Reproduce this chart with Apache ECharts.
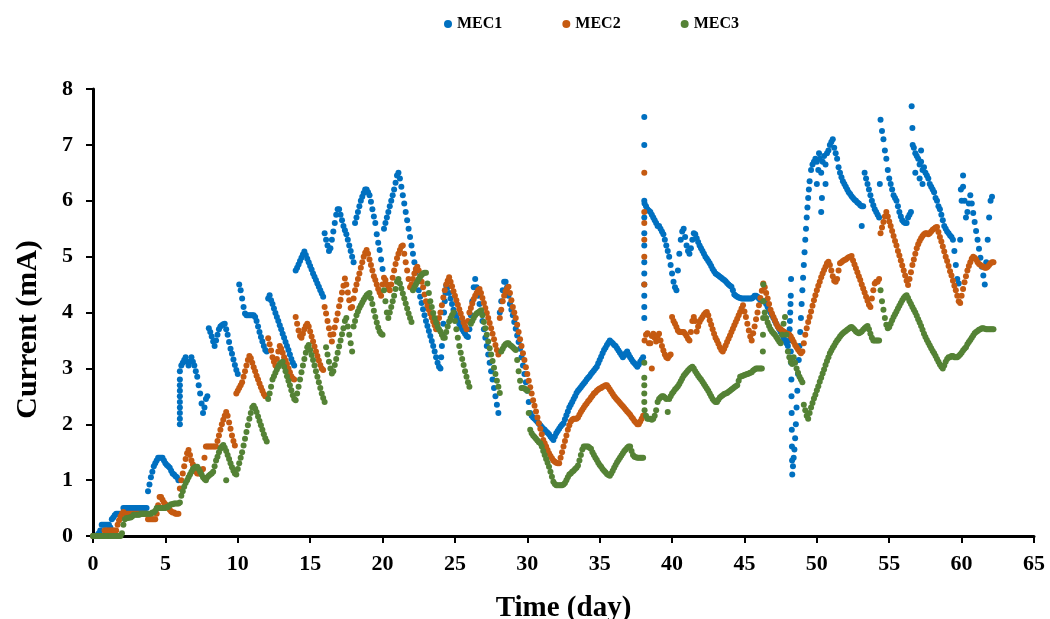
<!DOCTYPE html>
<html>
<head>
<meta charset="utf-8">
<script src="https://cdn.jsdelivr.net/npm/echarts@6/dist/echarts.min.js"></script>
<style>
html,body{margin:0;padding:0;background:#fff;}
#chart{width:1050px;height:619px;}
</style>
</head>
<body>
<div id="chart"></div>
<script>
// Sampling step of the recorded series (days)
const STEP = 0.1;
const seriesNames = ['MEC1', 'MEC2', 'MEC3'];
const xTicks = [0, 65, 5];   // min, max, interval (day)
const yTicks = [0, 8, 1];    // min, max, interval (mA)

// MEC1 current (mA), one row per day, samples every 0.1 day
const mec1 = [
0,0,0,0.02,0.05,0.1,0.2,0.2,0.2,0.2,
0.2,0.2,0.15,0.3,0.33,0.37,0.4,0.4,0.4,0.4,
0.4,0.5,0.5,0.5,0.5,0.5,0.5,0.5,0.5,0.5,
0.5,0.5,0.5,0.5,0.5,0.5,0.5,0.5,0.8,0.92,
1.05,1.15,1.25,1.3,1.35,1.4,1.4,1.4,1.4,1.35,
1.3,1.27,1.25,1.22,1.17,1.12,1.1,1.07,1.05,1.0,
2.95,3.05,3.1,3.15,3.2,3.12,3.05,3.12,3.2,3.12,
3.05,2.95,2.85,2.7,2.55,2.37,2.2,2.3,2.45,2.5,
3.72,3.65,3.57,3.48,3.4,3.5,3.6,3.7,3.75,3.77,
3.79,3.8,3.7,3.6,3.47,3.35,3.26,3.16,3.06,2.97,
2.9,4.5,4.4,4.25,4.1,3.98,3.95,3.95,3.95,3.95,
3.95,3.95,3.92,3.85,3.75,3.65,3.56,3.48,3.4,3.33,
3.3,4.25,4.31,4.22,4.15,4.07,3.99,3.92,3.85,3.77,
3.7,3.62,3.55,3.47,3.4,3.33,3.25,3.17,3.1,3.05,
4.75,4.8,4.86,4.92,4.98,5.04,5.09,5.03,4.96,4.9,
4.83,4.77,4.7,4.64,4.58,4.52,4.46,4.4,4.34,4.28,
5.42,5.3,5.2,5.1,5.15,5.3,5.45,5.6,5.75,5.85,
5.85,5.75,5.65,5.55,5.47,5.4,5.3,5.2,5.1,5.0,
4.9,5.6,5.7,5.8,5.9,6.0,6.07,6.14,6.2,6.2,
6.15,6.1,5.98,5.85,5.72,5.6,5.4,5.25,5.12,4.95,
4.78,5.5,5.6,5.7,5.8,5.9,6.0,6.1,6.2,6.32,
6.45,6.5,6.4,6.25,6.1,5.95,5.8,5.65,5.5,5.35,
5.2,5.05,4.9,4.72,4.55,4.4,4.28,4.17,4.06,3.95,
3.85,3.76,3.67,3.58,3.49,3.4,3.3,3.2,3.1,3.03,
3.0,3.4,3.8,4.2,4.48,4.45,4.35,4.25,4.15,4.05,
3.98,3.92,3.86,3.8,3.75,3.7,3.66,3.62,3.58,3.56,
3.7,3.95,4.2,4.45,4.6,4.45,4.3,4.15,4.0,3.85,
3.7,3.55,3.4,3.25,3.1,2.95,2.8,2.65,2.5,2.35,
2.2,4.0,4.2,4.4,4.55,4.55,4.45,4.3,4.15,4.05,
3.95,3.83,3.71,3.59,3.47,3.35,3.2,3.05,2.9,2.75,
2.6,2.4,2.2,2.15,2.12,2.1,2.07,2.04,2.01,1.98,
1.95,1.92,1.9,1.87,1.85,1.82,1.78,1.75,1.72,1.78,
1.84,1.88,1.92,1.96,1.99,2.02,2.09,2.16,2.23,2.3,
2.35,2.4,2.45,2.5,2.56,2.6,2.63,2.66,2.7,2.73,
2.76,2.8,2.83,2.86,2.9,2.93,2.96,3.0,3.03,3.09,
3.15,3.21,3.27,3.33,3.37,3.42,3.46,3.5,3.47,3.45,
3.42,3.4,3.36,3.32,3.28,3.24,3.2,3.23,3.27,3.3,
3.25,3.2,3.16,3.12,3.09,3.06,3.03,3.07,3.12,3.16,
3.2,5.95,5.9,5.85,5.82,5.8,5.75,5.7,5.65,5.6,
5.55,5.55,5.5,5.45,5.4,5.3,5.2,5.1,5.0,4.85,
4.7,4.55,4.45,4.4,4.75,5.05,5.3,5.45,5.5,5.35,
5.2,5.1,5.05,5.15,5.3,5.42,5.4,5.33,5.26,5.2,
5.15,5.1,5.05,5.0,4.96,4.92,4.88,4.83,4.78,4.74,
4.7,4.68,4.66,4.64,4.62,4.6,4.58,4.56,4.53,4.5,
4.48,4.46,4.4,4.32,4.3,4.28,4.27,4.26,4.25,4.25,
4.25,4.25,4.25,4.25,4.25,4.25,4.27,4.3,4.3,4.28,
4.25,4.22,4.2,4.2,4.2,4.15,4.1,4.05,4.0,3.95,
3.9,3.85,3.8,3.75,3.7,3.65,3.6,3.55,3.5,3.45,
3.4,3.5,3.3,1.1,1.4,1.75,2.3,2.9,3.4,3.9,
4.4,4.85,5.3,5.7,6.05,6.35,6.55,6.65,6.7,6.75,
6.7,6.55,6.75,6.5,6.7,6.8,6.65,6.85,6.9,7.0,
7.05,7.1,6.95,6.85,6.75,6.6,6.5,6.42,6.35,6.3,
6.25,6.2,6.15,6.12,6.08,6.05,6.02,6.0,5.97,5.95,
5.92,5.9,5.9,6.5,6.4,6.3,6.2,6.1,6.0,5.92,
5.85,5.8,5.75,5.7,7.45,7.25,7.1,6.9,6.75,6.55,
6.4,6.3,6.2,6.1,6.05,6.0,5.9,5.8,5.72,5.65,
5.62,5.6,5.6,5.7,5.75,5.8,7.3,6.95,6.85,6.8,
6.75,6.65,6.7,6.55,6.6,6.5,6.45,6.4,6.3,6.25,
6.2,6.15,6.05,6.0,5.9,5.85,5.75,5.65,5.55,5.5,
5.45,5.42,5.38,5.35,5.3,5.1,4.85,4.6,4.52,5.3,
6.0,6.45,6.0,5.7,5.8,5.95,6.1,5.95,5.78,5.62,
5.46,5.3,5.14,4.98,4.82,4.66,4.5,4.9,5.3,5.7,
6.0,6.07
];
// MEC1 readings off the regular grid (fast transitions) [day, mA]
const mec1Extra = [
[6.0,2.0],[6.0,2.1],[6.0,2.2],[6.0,2.3],[6.0,2.4],[6.0,2.5],[6.0,2.6],[6.0,2.7],[6.0,2.8],
[24.05,3.2],[24.15,3.6],[24.25,4.0],[24.35,4.35],
[38.08,3.9],[38.08,4.1],[38.08,4.3],[38.08,4.5],[38.08,4.7],[38.08,4.9],[38.08,5.2],[38.08,5.42],[38.08,5.7],[38.08,6.0],[38.08,7.0],[38.08,7.5],
[48.12,3.7],[48.14,3.85],[48.16,4.0],[48.18,4.15],[48.2,4.3],[48.22,4.6],
[48.22,3.1],[48.24,2.8],[48.25,2.5],[48.26,2.2],[48.27,1.9],[48.28,1.6],[48.29,1.35],
[48.35,1.25],[48.45,1.55],[48.55,2.0],[48.65,2.6],[48.75,3.15],[48.85,3.65],[48.95,4.15],[49.05,4.62],[49.15,5.08],[49.25,5.5],[49.35,5.88],[49.45,6.2],
[50.0,6.3],[50.3,5.8],[50.35,6.05],[50.6,6.3],[50.15,6.85],
[53.1,5.55],[54.35,6.3],
[56.55,7.69],[56.62,7.0],[56.8,6.5],[57.1,6.4],[57.3,6.3],[57.2,6.9],
[59.95,6.2],[60.1,6.25]
];

// MEC2 current (mA)
const mec2 = [
0,0,0,0,0,0,0,0,0.1,0.1,
0.1,0.1,0.1,0.1,0.1,0.1,0.1,0.2,0.28,0.35,
0.4,0.43,0.4,0.4,0.4,0.4,0.4,0.4,0.4,0.4,
0.4,0.4,0.4,0.4,0.4,0.4,0.4,0.4,0.3,0.3,
0.3,0.3,0.3,0.3,0.4,0.55,0.7,0.7,0.65,0.6,
0.57,0.53,0.5,0.47,0.44,0.42,0.42,0.4,0.4,0.4,
0.85,1.0,1.12,1.25,1.38,1.48,1.54,1.45,1.35,1.28,
1.2,1.15,1.12,1.12,1.15,1.18,1.2,1.4,1.6,1.6,
1.6,1.6,1.6,1.6,1.6,1.6,1.7,1.8,1.9,2.0,
2.08,2.15,2.22,2.15,2.03,1.92,1.8,1.7,1.62,2.55,
2.6,2.65,2.7,2.75,2.85,2.95,3.05,3.15,3.22,3.18,
3.1,3.02,2.95,2.87,2.8,2.73,2.66,2.6,2.54,2.5,
2.5,3.54,3.43,3.32,3.2,3.12,3.05,3.17,3.3,3.4,
3.35,3.28,3.2,3.14,3.08,3.0,2.93,2.86,2.82,2.8,
3.92,3.8,3.68,3.58,3.55,3.62,3.7,3.76,3.8,3.75,
3.66,3.57,3.48,3.39,3.3,3.22,3.14,3.06,3.0,2.97,
4.1,3.98,3.85,3.72,3.6,3.48,3.61,3.73,3.86,3.98,
4.11,4.23,4.36,4.48,4.61,4.5,4.36,4.22,4.08,4.1,
4.25,4.4,4.5,4.6,4.7,4.8,4.9,5.0,5.07,5.12,
5.05,4.95,4.85,4.75,4.65,4.58,4.5,4.42,4.36,4.3,
4.5,4.62,4.58,4.5,4.42,4.4,4.5,4.62,4.75,4.87,
4.97,5.05,5.12,5.18,5.2,5.05,4.9,4.75,4.6,4.45,
4.5,4.6,4.7,4.78,4.82,4.75,4.65,4.55,4.45,4.32,
4.2,4.12,4.05,3.98,3.91,3.84,3.77,3.7,3.8,3.9,
4.0,4.13,4.27,4.4,4.5,4.57,4.63,4.55,4.47,4.38,
4.3,4.22,4.14,4.06,3.98,3.9,3.82,3.76,3.7,3.85,
4.0,4.08,4.16,4.24,4.3,4.35,4.4,4.42,4.35,4.26,
4.17,4.08,3.99,3.9,3.81,3.72,3.62,3.52,3.42,3.33,
3.25,3.9,4.05,4.2,4.3,4.38,4.43,4.46,4.35,4.22,
4.1,4.0,3.9,3.78,3.65,3.52,3.4,3.27,3.15,3.02,
2.9,2.78,2.66,2.55,2.43,2.33,2.23,2.12,2.02,1.92,
1.82,1.72,1.66,1.6,1.54,1.48,1.43,1.39,1.35,1.33,
1.31,1.3,1.3,1.4,1.5,1.6,1.7,1.8,1.9,1.98,
2.05,2.08,2.1,2.1,2.1,2.12,2.17,2.22,2.26,2.3,
2.34,2.37,2.41,2.44,2.48,2.51,2.55,2.57,2.6,2.62,
2.64,2.65,2.67,2.68,2.7,2.7,2.66,2.62,2.58,2.54,
2.5,2.47,2.44,2.41,2.38,2.35,2.32,2.29,2.26,2.23,
2.2,2.17,2.13,2.1,2.06,2.03,2.0,2.0,2.05,2.1,
2.15,3.5,3.6,3.63,3.45,3.45,3.58,3.62,3.55,3.48,
3.58,3.62,3.5,3.4,3.32,3.25,3.2,3.18,3.22,3.25,
3.92,3.85,3.8,3.74,3.68,3.65,3.65,3.65,3.65,3.62,
3.58,3.53,3.5,3.65,3.85,3.92,3.85,3.66,3.75,3.83,
3.88,3.92,3.96,3.99,4.01,3.95,3.86,3.78,3.7,3.62,
3.55,3.5,3.44,3.38,3.33,3.3,3.35,3.41,3.47,3.53,
3.59,3.65,3.71,3.77,3.83,3.89,3.95,4.01,4.07,4.13,
4.02,3.92,3.8,3.68,3.57,3.5,3.63,3.75,3.88,4.0,
4.13,4.26,4.39,4.52,4.45,4.35,4.25,4.15,4.05,3.98,
3.92,3.86,3.8,3.75,3.72,3.7,3.68,3.66,3.64,3.62,
3.62,3.6,3.57,3.52,3.47,3.42,3.38,3.34,3.3,3.27,
3.3,3.45,3.6,3.72,3.83,3.92,4.02,4.12,4.22,4.31,
4.4,4.48,4.55,4.63,4.7,4.76,4.82,4.88,4.91,4.85,
4.75,4.65,4.57,4.55,4.6,4.75,4.88,4.9,4.92,4.94,
4.95,4.97,4.99,5.0,5.01,4.93,4.86,4.79,4.72,4.65,
4.58,4.5,4.43,4.36,4.28,4.21,4.14,4.1,4.25,4.4,
4.52,4.55,4.55,4.6,5.42,5.52,5.62,5.72,5.8,5.72,
5.63,5.55,5.46,5.37,5.28,5.2,5.1,5.02,4.93,4.84,
4.75,4.66,4.57,4.49,4.6,4.72,4.85,4.95,5.05,5.15,
5.22,5.28,5.33,5.37,5.4,5.42,5.42,5.4,5.42,5.45,
5.48,5.5,5.52,5.53,5.44,5.35,5.27,5.18,5.09,5.0,
4.92,4.83,4.74,4.66,4.57,4.48,4.4,4.3,4.2,4.17,
4.3,4.42,4.54,4.65,4.75,4.83,4.9,4.96,5.0,4.98,
4.95,4.9,4.87,4.85,4.83,4.82,4.8,4.8,4.82,4.85,
4.88,4.9,4.9
];
const mec2Extra = [
[38.08,4.5],[38.08,5.0],[38.08,5.3],[38.08,5.6],[38.08,5.8],[38.08,6.5],[38.6,3.0]
];

// MEC3 current (mA)
const mec3 = [
0,0,0,0,0,0,0,0,0,0,
0,0,0,0,0,0,0,0,0,0,
0.05,0.2,0.3,0.32,0.32,0.33,0.33,0.35,0.38,0.38,
0.38,0.38,0.38,0.4,0.4,0.4,0.4,0.4,0.4,0.4,
0.4,0.42,0.42,0.45,0.5,0.5,0.5,0.5,0.5,0.5,
0.5,0.52,0.52,0.55,0.57,0.57,0.58,0.58,0.58,0.58,
0.6,0.72,0.8,0.88,0.95,1.0,1.05,1.1,1.15,1.2,
1.22,1.24,1.24,1.2,1.15,1.1,1.05,1.02,1.0,1.05,
1.08,1.1,1.12,1.15,1.25,1.35,1.42,1.5,1.56,1.6,
1.63,1.58,1.52,1.45,1.38,1.3,1.23,1.17,1.12,1.1,
1.2,1.3,1.4,1.5,1.62,1.74,1.86,1.98,2.1,2.2,
2.3,2.33,2.28,2.22,2.14,2.06,1.98,1.9,1.82,1.75,
1.69,2.45,2.55,2.67,2.8,2.86,2.92,2.98,3.03,3.08,
3.1,3.12,3.03,2.95,2.86,2.78,2.7,2.61,2.52,2.45,
2.43,2.55,2.67,2.8,2.93,3.05,3.17,3.28,3.38,3.42,
3.33,3.24,3.15,3.05,2.95,2.85,2.75,2.65,2.55,2.47,
2.4,3.38,3.25,3.12,3.0,2.91,2.95,3.06,3.17,3.28,
3.39,3.5,3.61,3.72,3.85,3.9,3.75,3.6,3.45,3.3,
3.75,3.85,3.95,4.02,4.08,4.13,4.18,4.23,4.27,4.31,
4.33,4.35,4.25,4.15,4.03,3.92,3.82,3.73,3.66,3.62,
3.6,4.4,4.2,4.0,3.9,4.0,4.1,4.2,4.3,4.42,
4.55,4.6,4.52,4.43,4.34,4.25,4.16,4.07,3.98,3.9,
3.83,4.4,4.45,4.5,4.55,4.6,4.64,4.67,4.7,4.71,
4.71,4.52,4.35,4.2,4.1,3.99,3.9,3.82,3.75,3.7,
3.66,3.6,3.55,3.55,3.65,3.75,3.84,3.9,3.95,4.0,
3.85,3.7,3.55,3.4,3.28,3.17,3.06,2.95,2.85,2.75,
2.67,3.8,3.85,3.9,3.95,3.98,4.0,4.02,4.04,3.95,
3.83,3.72,3.6,3.48,3.36,3.25,3.13,3.01,2.9,2.78,
2.67,2.56,3.3,3.35,3.4,3.43,3.45,3.45,3.42,3.4,
3.38,3.35,3.33,3.15,2.95,2.78,2.65,2.65,2.64,2.62,
2.6,2.2,1.9,1.84,1.8,1.77,1.74,1.71,1.68,1.66,
1.6,1.52,1.45,1.38,1.31,1.24,1.15,1.06,0.97,0.93,
0.91,0.91,0.91,0.91,0.91,0.92,0.95,1.0,1.05,1.1,
1.12,1.15,1.17,1.2,1.22,1.26,1.35,1.45,1.55,1.6,
1.6,1.6,1.6,1.58,1.56,1.5,1.45,1.4,1.36,1.31,
1.27,1.24,1.2,1.17,1.14,1.11,1.09,1.08,1.12,1.17,
1.22,1.27,1.32,1.36,1.4,1.44,1.48,1.52,1.55,1.58,
1.6,1.6,1.52,1.45,1.42,1.41,1.4,1.4,1.4,1.4,
1.4,2.25,2.15,2.1,2.1,2.1,2.08,2.1,2.15,2.25,
2.4,2.45,2.48,2.5,2.5,2.48,2.45,2.22,2.45,2.5,
2.55,2.58,2.62,2.65,2.68,2.72,2.77,2.82,2.87,2.9,
2.93,2.96,2.99,3.01,3.03,3.0,2.95,2.91,2.87,2.83,
2.8,2.76,2.72,2.68,2.64,2.6,2.55,2.5,2.45,2.42,
2.4,2.4,2.44,2.48,2.5,2.52,2.54,2.55,2.56,2.58,
2.6,2.62,2.64,2.66,2.68,2.7,2.78,2.85,2.86,2.87,
2.88,2.89,2.9,2.91,2.92,2.93,2.96,2.98,3.0,3.0,
3.0,3.0,3.0,4.5,4.0,3.9,3.82,3.76,3.7,3.66,
3.63,3.6,3.56,3.52,3.48,3.45,3.6,3.8,3.92,3.6,
3.3,3.2,3.12,3.08,3.2,3.1,3.0,2.92,2.85,2.8,
2.75,2.35,2.25,2.15,2.1,2.2,2.3,2.38,2.46,2.53,
2.61,2.68,2.76,2.83,2.91,2.98,3.06,3.13,3.2,3.27,
3.32,3.37,3.41,3.46,3.5,3.53,3.57,3.6,3.63,3.65,
3.67,3.69,3.71,3.73,3.74,3.72,3.69,3.66,3.64,3.63,
3.64,3.66,3.69,3.72,3.74,3.76,3.7,3.62,3.55,3.5,
3.5,3.5,3.5,3.5,4.4,4.2,4.05,3.9,3.78,3.72,
3.74,3.8,3.86,3.92,3.97,4.02,4.07,4.12,4.17,4.22,
4.26,4.29,4.31,4.26,4.2,4.15,4.1,4.05,4.0,3.94,
3.88,3.82,3.76,3.69,3.62,3.56,3.51,3.46,3.41,3.36,
3.31,3.27,3.22,3.17,3.12,3.07,3.03,3.0,3.05,3.12,
3.17,3.2,3.2,3.22,3.22,3.2,3.2,3.2,3.22,3.25,
3.28,3.32,3.35,3.38,3.43,3.47,3.51,3.55,3.59,3.63,
3.65,3.67,3.69,3.7,3.72,3.72,3.71,3.7,3.7,3.7,
3.7,3.7,3.7
];
const mec3Extra = [
[9.2,1.0],
[38.08,2.4],[38.08,2.55],[38.08,2.7],[38.08,2.83],[38.08,3.1],
[46.27,3.3],[46.28,3.6],[46.29,3.9],[46.3,4.2]
];

const colors = ['#0070C0', '#C55A11', '#548235'];

function toPoints(values, extra) {
  const pts = values.map((v, i) => [Math.round(i * STEP * 100) / 100, v]);
  return pts.concat(extra);
}

const FONT = '"Liberation Serif", "Times New Roman", serif';
const chart = echarts.init(document.getElementById('chart'), null, {renderer: 'canvas'});
chart.setOption({
  animation: false,
  backgroundColor: '#ffffff',
  color: colors,
  legend: {
    top: 11,
    left: 439,
    itemGap: 60,
    itemWidth: 8,
    itemHeight: 8,
    icon: 'circle',
    textStyle: {fontFamily: FONT, fontWeight: 'bold', fontSize: 16, color: '#000'},
    data: seriesNames
  },
  grid: {left: 93, top: 89, width: 941, height: 447, containLabel: false, outerBoundsMode: 'none'},
  xAxis: {
    type: 'value',
    min: xTicks[0], max: xTicks[1], interval: xTicks[2],
    name: 'Time (day)',
    nameLocation: 'middle',
    nameGap: 58,
    nameTextStyle: {fontFamily: FONT, fontWeight: 'bold', fontSize: 29, color: '#000'},
    axisLine: {lineStyle: {color: '#000', width: 3}},
    axisTick: {show: true, length: 7, lineStyle: {color: '#000', width: 2}},
    axisLabel: {margin: 17, fontFamily: FONT, fontWeight: 'bold', fontSize: 22, color: '#000'},
    splitLine: {show: false}
  },
  yAxis: {
    type: 'value',
    min: yTicks[0], max: yTicks[1], interval: yTicks[2],
    name: 'Current (mA)',
    nameLocation: 'middle',
    nameGap: 50,
    nameTextStyle: {fontFamily: FONT, fontWeight: 'bold', fontSize: 30, color: '#000', padding: [0, 34, 0, 0]},
    axisLine: {show: true, lineStyle: {color: '#000', width: 3}},
    axisTick: {show: true, length: 7, lineStyle: {color: '#000', width: 2}},
    axisLabel: {margin: 20, fontFamily: FONT, fontWeight: 'bold', fontSize: 22, color: '#000'},
    splitLine: {show: false}
  },
  series: [
    {name: seriesNames[0], type: 'scatter', symbol: 'circle', symbolSize: 6, data: toPoints(mec1, mec1Extra), itemStyle: {color: colors[0], opacity: 1}},
    {name: seriesNames[1], type: 'scatter', symbol: 'circle', symbolSize: 6, data: toPoints(mec2, mec2Extra), itemStyle: {color: colors[1], opacity: 1}},
    {name: seriesNames[2], type: 'scatter', symbol: 'circle', symbolSize: 6, data: toPoints(mec3, mec3Extra), itemStyle: {color: colors[2], opacity: 1}}
  ]
});
</script>
</body>
</html>
